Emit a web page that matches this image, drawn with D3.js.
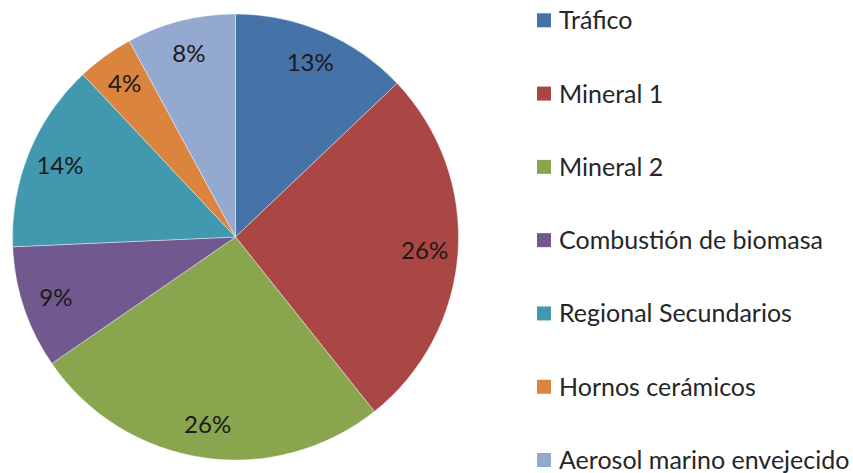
<!DOCTYPE html>
<html>
<head>
<meta charset="utf-8">
<script src="https://cdn.jsdelivr.net/npm/d3@7"></script>
<style>
  body { margin: 0; background: #fff; }
  svg { display: block; font-family: Lato, "Open Sans", sans-serif; }
</style>
</head>
<body>
<svg width="853" height="473"></svg>
<script>
// Source apportionment shares (%)
const categories = ["Tráfico", "Mineral 1", "Mineral 2", "Combustión de biomasa",
    "Regional Secundarios", "Hornos cerámicos", "Aerosol marino envejecido"];
const values = [12.9, 26.4, 26.1, 8.9, 13.7, 4.1, 7.9];
const colors = ["#4572A7", "#AA4643", "#89A54E", "#71588F", "#4198AF", "#DB843D", "#93A9CF"];

const svg = d3.select("svg");
const cx = 235.5, cy = 237, radius = 223;

const data = categories.map((c, i) => ({name: c, value: values[i]}));
const total = d3.sum(values);

const pie = d3.pie().value(d => d.value).sort(null);
const arcs = pie(data);

const arc = d3.arc().innerRadius(0).outerRadius(radius);
const labelArc = d3.arc().innerRadius(radius * 0.85).outerRadius(radius * 0.85);

const color = d3.scaleOrdinal().domain(categories).range(colors);

const g = svg.append("g").attr("transform", `translate(${cx},${cy})`);

g.selectAll("path")
    .data(arcs)
    .join("path")
    .attr("d", arc)
    .attr("fill", d => color(d.data.name))
    .attr("stroke", "#fff")
    .attr("stroke-width", 0.4);

g.selectAll("text")
    .data(arcs)
    .join("text")
    .attr("transform", d => `translate(${labelArc.centroid(d)})`)
    .attr("text-anchor", "middle")
    .attr("dy", "0.36em")
    .attr("font-size", 24)
    .attr("fill", "#1a1a1a")
    .text(d => Math.round(d.data.value / total * 100) + "%");

// Legend
const ly = d3.scalePoint().domain(categories).range([20.3, 460]);

const legend = svg.append("g")
    .selectAll("g")
    .data(categories)
    .join("g")
    .attr("transform", d => `translate(537,${ly(d)})`);

legend.append("rect")
    .attr("x", 0).attr("y", -7)
    .attr("width", 14).attr("height", 14)
    .attr("fill", d => color(d));

legend.append("text")
    .attr("x", 22)
    .attr("dy", "0.36em")
    .attr("font-size", 25)
    .attr("fill", "#262626")
    .text(d => d);
</script>
</body>
</html>
